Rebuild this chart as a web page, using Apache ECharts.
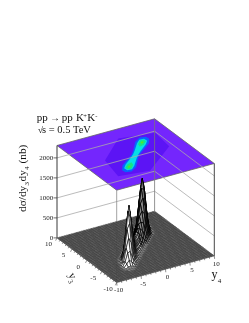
<!DOCTYPE html>
<html><head><meta charset="utf-8">
<style>html,body{margin:0;padding:0;background:#fff}#c{width:249px;height:323px}</style>
<script src="https://cdn.jsdelivr.net/npm/echarts@6/dist/echarts.min.js"></script>
</head><body><div id="c"></div>
<script>
const zTicks=[0,500,1000,1500,2000];
const y3Ticks=[-10,-5,0,5,10];
const yATicks=[-10,-5,0,5,10];
const zTop=2310;
const meshStep=0.5;
const ridgeYA=[-6.5,-6,-5.5,-5,-4.5,-4,-3.5,-3,-2.5,-2,-1.5,-1,-0.5,0,0.5,1,1.5,2,2.5,3,3.5,4,4.5,5,5.5,6,6.5];
const ridgeOffsets=[-2,-1.5,-1,-0.5,0,0.5,1,1.5,2];
const ridgeZ=[
[0,0,1,2,3,2,1,0,0],
[0,1,4,10,16,9,3,1,0],
[3,12,42,88,118,84,38,11,2],
[12,52,165,320,410,305,155,48,10],
[30,115,345,645,835,625,330,105,24],
[46,172,520,965,1245,940,500,160,38],
[52,190,565,1050,1350,1020,545,175,42],
[44,160,485,895,1150,870,460,150,35],
[30,112,340,630,815,615,325,104,24],
[18,72,225,425,555,415,215,66,14],
[12,48,155,310,420,305,150,44,10],
[9,38,125,265,360,260,120,35,8],
[8,34,112,240,330,235,108,31,7],
[7,32,106,232,320,230,104,30,7],
[7,31,110,238,335,245,112,34,8],
[8,36,124,262,370,268,128,38,9],
[12,55,190,340,440,345,195,60,14],
[18,88,285,460,580,470,292,92,22],
[32,145,435,690,850,710,450,155,40],
[48,205,620,980,1190,1000,640,220,60],
[58,240,740,1150,1400,1175,760,255,70],
[50,215,665,1040,1265,1065,685,230,62],
[32,140,435,685,835,705,450,155,40],
[14,62,205,330,410,345,215,68,16],
[2,14,48,90,115,94,52,16,3],
[0,1,3,9,14,10,4,1,0],
[0,0,1,2,3,2,1,0,0]
];
const hexContour=[[-5.8,0.8],[0.6,6.8],[7.3,5.4],[6.7,-0.3],[-1.1,-6.6],[-7,-5.6]];
const blueContour=[[-5.1,-4.9],[-4,-5.2],[-2.45,-4.15],[-0.45,-1.55],[0.48,-0.48],[1.58,0.42],[4.18,2.42],[5.22,3.98],[5.1,4.9],[4,5.2],[2.45,4.15],[0.45,1.55],[-0.48,0.48],[-1.58,-0.42],[-4.18,-2.42],[-5.22,-3.98]];
const cyanContour=[[-4.4,-4.4],[-3.5,-4.5],[-2.45,-3.55],[-0.64,-1.36],[0.32,-0.32],[1.38,0.62],[3.57,2.43],[4.5,3.5],[4.4,4.4],[3.5,4.5],[2.45,3.55],[0.64,1.36],[-0.32,0.32],[-1.38,-0.62],[-3.57,-2.43],[-4.5,-3.5]];
const greenLobeA=[[2.2,2.2],[3.16,2.44],[4.2,3.4],[4.2,4.2],[3.4,4.2],[2.44,3.16]];
const greenLobeB=[[-2.2,-2.2],[-2.44,-3.16],[-3.4,-4.2],[-4.2,-4.2],[-4.2,-3.4],[-3.16,-2.44]];
const coreLobeA=[[3,3],[3.58,3.22],[3.8,3.8],[3.22,3.58]];
const coreLobeB=[[-3,-3],[-3.22,-3.58],[-3.8,-3.8],[-3.58,-3.22]];

const O=[135.65,246.9], ex=[4.88,-1.335], ey=[-2.985,-2.235], ez=-0.04;
function proj(a,b,z){return [O[0]+a*ex[0]+b*ey[0],O[1]+a*ex[1]+b*ey[1]+z*ez];}

const N=Math.round(20/meshStep);
const zm=[];
for(let i=0;i<=N;i++){zm.push(new Array(N+1).fill(0));}
ridgeYA.forEach((a,r)=>{ridgeOffsets.forEach((d,c)=>{
  const i=Math.round((a+10)/meshStep), j=Math.round((a+d+10)/meshStep);
  if(i>=0&&i<=N&&j>=0&&j<=N) zm[i][j]=ridgeZ[r][c];
});});
const cells=[];
for(let i=N-1;i>=0;i--)for(let j=N-1;j>=0;j--)cells.push([i,j]);

const serif='"Liberation Serif","DejaVu Serif",serif';
function txt(x,base,t,size,col){return {type:'text',style:{x,y:base-size*0.33,text:t,font:size+'px '+serif,fill:col||'#111',textAlign:'left',textVerticalAlign:'middle'}};}
function poly(api,pts,z,style){return {type:'polygon',shape:{points:pts.map(p=>api.coord(proj(p[0],p[1],z)))},style};}
function line(api,p,q,stroke,w){const a=api.coord(p),b=api.coord(q);return {type:'line',shape:{x1:a[0],y1:a[1],x2:b[0],y2:b[1]},style:{stroke,lineWidth:w}};}

function backdrop(params,api){
  const c=[];
  const corner=[[-10,10],[-10,-10],[10,-10],[10,10]];
  c.push(poly(api,corner,zTop,{fill:'#7426fd',stroke:'#666',lineWidth:0.8}));
  c.push(poly(api,hexContour,zTop,{fill:'#5c14f5'}));
  c.push(poly(api,blueContour,zTop,{fill:'#0a62ff'}));
  c.push(poly(api,cyanContour,zTop,{fill:'#06dfe6'}));
  c.push(poly(api,greenLobeA,zTop,{fill:'#14e488'}));
  c.push(poly(api,greenLobeB,zTop,{fill:'#14e488'}));
  c.push(poly(api,coreLobeA,zTop,{fill:'#58e426'}));
  c.push(poly(api,coreLobeB,zTop,{fill:'#58e426'}));
  zTicks.filter(z=>z>0).forEach(z=>{
    c.push(line(api,proj(-10,10,z),proj(10,10,z),'#a9a9a9',0.8));
    c.push(line(api,proj(10,10,z),proj(10,-10,z),'#a9a9a9',0.8));
  });
  c.push(line(api,proj(10,10,0),proj(10,10,zTop),'#777',0.8));
  c.push(line(api,proj(-10,-10,0),proj(-10,-10,zTop),'#8a8a8a',0.8));
  return {type:'group',children:c};
}
function surface(params,api){
  const i=api.value(0), j=api.value(1);
  const a0=-10+i*meshStep, a1=a0+meshStep, b0=-10+j*meshStep, b1=b0+meshStep;
  const zs=[zm[i][j],zm[i+1][j],zm[i+1][j+1],zm[i][j+1]];
  const top=Math.max(zs[0],zs[1],zs[2],zs[3]);
  const pts=[proj(a0,b0,zs[0]),proj(a1,b0,zs[1]),proj(a1,b1,zs[2]),proj(a0,b1,zs[3])].map(p=>api.coord(p));
  if(top<5) return {type:'polygon',shape:{points:pts},style:{fill:'#5e5e5e',stroke:'#333',lineWidth:0.45}};
  if(top<70) return {type:'polygon',shape:{points:pts},style:{fill:'#8a8a8a',stroke:'#444',lineWidth:0.45}};
  return {type:'polygon',shape:{points:pts},style:{fill:a0>0?'#8c8c8c':'#fff',stroke:'#000',lineWidth:a0>0?0.8:0.6}};
}
function frame(params,api){
  const c=[];
  c.push(line(api,proj(-10,10,0),proj(-10,10,zTop),'#222',0.9));
  c.push(line(api,proj(10,-10,0),proj(10,-10,zTop),'#333',0.9));
  zTicks.forEach(z=>{
    const p=proj(-10,10,z);
    c.push(line(api,[p[0]-3.5,p[1]],p,'#333',0.7));
    const q=api.coord(p);
    c.push({type:'text',style:{x:q[0]-3.8,y:q[1],text:String(z),font:'7px '+serif,fill:'#222',textAlign:'right',textVerticalAlign:'middle'}});
  });
  for(let v=-10;v<=10;v++){
    const major=v%5===0, len=major?3:1.6;
    const p=proj(-10,v,0); c.push(line(api,p,[p[0]-len*0.45,p[1]+len*0.9],'#444',0.6));
    const q=proj(v,-10,0); c.push(line(api,q,[q[0]+len*0.1,q[1]+len],'#444',0.6));
  }
  y3Ticks.forEach(v=>{
    const p=api.coord(proj(-10,v,0));
    c.push({type:'text',style:{x:p[0]-8.5,y:p[1]+6.5,text:String(v),font:'7px '+serif,fill:'#222',textAlign:'center',textVerticalAlign:'middle'}});
  });
  yATicks.forEach(v=>{
    const p=api.coord(proj(v,-10,0));
    c.push({type:'text',style:{x:p[0]+2,y:p[1]+8,text:String(v),font:'7px '+serif,fill:'#222',textAlign:'center',textVerticalAlign:'middle'}});
  });
  return {type:'group',children:c};
}

const chart=echarts.init(document.getElementById('c'),null,{renderer:'canvas'});
chart.setOption({
  animation:false,
  backgroundColor:'#fff',
  grid:{left:0,top:0,width:249,height:323},
  xAxis:{type:'value',min:0,max:249,show:false},
  yAxis:{type:'value',min:0,max:323,inverse:true,show:false},
  graphic:[
    txt(36.7,121.7,'pp',11),
    txt(50,121.7,'\u2192',10),
    txt(61.7,121.7,'pp',11),
    txt(76,121.7,'K',11),
    txt(83.3,118.5,'+',6.5),
    txt(87.3,121.7,'K',11),
    txt(95.3,118.5,'-',6.5),
    txt(38,133.3,'\u221A',9),
    txt(42,133.3,'s = 0.5 TeV',10.5),
    {type:'group',x:27,y:212,rotation:Math.PI/2,children:[
      txt(0,0,'d\u03C3/dy',11.3),
      txt(26.5,2.8,'3',7),
      txt(30.5,0,'dy',11.3),
      txt(42,2.8,'4',7),
      txt(48.5,0,'(nb)',11.3)
    ]},
    txt(211.5,279,'y',12),
    txt(217.8,283,'4',7),
    {type:'group',x:67.5,y:275,rotation:-Math.PI*0.36,children:[
      txt(0,0,'y',11),
      txt(5.6,2.7,'3',7)
    ]}
  ],
  series:[
    {type:'custom',coordinateSystem:'cartesian2d',silent:true,renderItem:backdrop,data:[[0,0]],z:1,clip:false},
    {type:'custom',coordinateSystem:'cartesian2d',silent:true,renderItem:surface,data:cells,encode:{x:0,y:1},progressive:0,z:2,clip:false},
    {type:'custom',coordinateSystem:'cartesian2d',silent:true,renderItem:frame,data:[[0,0]],z:3,clip:false}
  ]
});
</script></body></html>
